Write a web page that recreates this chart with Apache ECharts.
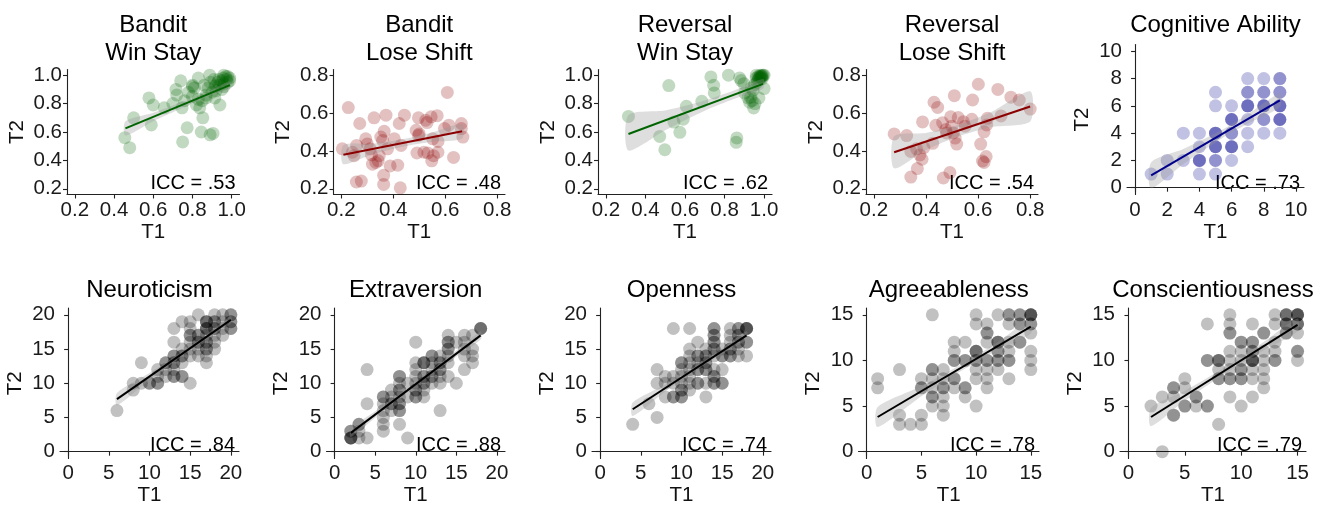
<!DOCTYPE html>
<html><head><meta charset="utf-8">
<script src="https://cdn.jsdelivr.net/npm/echarts@6/dist/echarts.min.js"></script>
<style>html,body{margin:0;padding:0;background:#fff}#c{width:1321px;height:505px}</style>
</head><body><div id="c"></div><script>
// ---------------- DATA ----------------
const panelTitles = ['Bandit\nWin Stay', 'Bandit\nLose Shift', 'Reversal\nWin Stay', 'Reversal\nLose Shift', 'Cognitive Ability',
  'Neuroticism', 'Extraversion', 'Openness', 'Agreeableness', 'Conscientiousness'];
const iccLabels = ['ICC = .53', 'ICC = .48', 'ICC = .62', 'ICC = .54', 'ICC = .73',
  'ICC = .84', 'ICC = .88', 'ICC = .74', 'ICC = .78', 'ICC = .79'];
const xName = 'T1';
const yName = 'T2';

// tick labels
const ticksWS = [0.2, 0.4, 0.6, 0.8, 1.0];
const ticksLS = [0.2, 0.4, 0.6, 0.8];
const ticksCog = [0, 2, 4, 6, 8, 10];
const ticks20 = [0, 5, 10, 15, 20];
const ticks15 = [0, 5, 10, 15];

// points [T1, T2]
const banditWinStay = [[0.455,0.56],[0.48,0.49],[0.50,0.70],[0.578,0.84],[0.60,0.79],[0.59,0.65],[0.656,0.77],[0.70,0.80],
  [0.716,0.90],[0.74,0.96],[0.747,0.77],[0.75,0.53],[0.773,0.63],[0.80,0.92],[0.80,0.93],[0.80,0.85],[0.82,0.79],[0.83,0.98],
  [0.837,0.77],[0.845,0.60],[0.853,0.70],[0.87,0.84],[0.888,1.0],[0.89,0.58],[0.905,0.59],[0.914,0.92],[0.914,0.84],[0.93,0.95],
  [0.94,0.79],[0.95,0.90],[0.957,0.98],[0.974,0.97],[0.98,0.99],[0.99,0.96],[0.935,0.97],[0.92,0.93],[0.90,0.88],[0.88,0.91],
  [0.87,0.86],[0.86,0.93],[0.78,0.88],[0.76,0.82],[0.81,0.91],[0.96,0.94],[0.97,0.99],[0.99,0.98],[0.95,0.96],[0.91,0.97],
  [0.94,0.93],[0.96,1.0],[0.98,0.95],[0.92,0.89],[0.85,0.82],[0.72,0.86],[0.83,0.83],[0.96,0.92],[0.89,0.95]];
const banditLoseShift = [[0.204,0.411],[0.227,0.629],[0.243,0.393],[0.249,0.375],[0.259,0.429],[0.271,0.545],[0.258,0.236],
  [0.277,0.241],[0.294,0.464],[0.30,0.437],[0.311,0.411],[0.316,0.379],[0.32,0.33],[0.326,0.575],[0.333,0.339],[0.342,0.348],
  [0.346,0.375],[0.352,0.473],[0.359,0.455],[0.365,0.504],[0.372,0.589],[0.363,0.271],[0.363,0.223],[0.378,0.411],[0.388,0.321],
  [0.404,0.464],[0.417,0.325],[0.423,0.545],[0.427,0.205],[0.43,0.429],[0.443,0.589],[0.488,0.509],[0.497,0.575],[0.491,0.389],
  [0.497,0.482],[0.50,0.49],[0.518,0.393],[0.525,0.562],[0.53,0.55],[0.533,0.389],[0.546,0.58],[0.548,0.348],[0.555,0.375],
  [0.552,0.464],[0.569,0.586],[0.572,0.45],[0.572,0.393],[0.597,0.518],[0.608,0.709],[0.614,0.536],[0.632,0.366],[0.662,0.545],
  [0.668,0.473],[0.662,0.518]];
const reversalWinStay = [[0.314,0.71],[0.472,0.569],[0.498,0.475],[0.518,0.927],[0.544,0.67],[0.574,0.598],[0.591,0.69],
  [0.607,0.781],[0.685,0.816],[0.731,0.988],[0.745,0.929],[0.748,0.875],[0.82,1.0],[0.859,0.527],[0.862,0.558],[0.876,0.981],
  [0.884,0.962],[0.898,0.94],[0.901,0.875],[0.918,0.84],[0.927,0.81],[0.932,0.845],[0.944,0.892],[0.947,0.769],[0.952,0.934],
  [0.961,1.0],[0.969,0.969],[0.974,0.84],[0.978,0.986],[0.986,0.993],[0.995,1.0],[0.991,0.976],[1.0,0.906],[0.935,0.91],
  [0.954,0.80],[0.97,0.99],[0.98,1.0],[0.99,0.99],[0.975,0.975],[0.96,0.98],[0.985,0.98],[0.965,0.95],[0.94,0.82],[0.99,1.0],
  [1.0,1.0],[0.98,0.99]];
const reversalLoseShift = [[0.278,0.49],[0.326,0.481],[0.342,0.262],[0.342,0.397],[0.364,0.411],[0.367,0.307],[0.377,0.379],
  [0.387,0.553],[0.385,0.356],[0.392,0.418],[0.426,0.44],[0.431,0.657],[0.438,0.535],[0.445,0.63],[0.464,0.549],[0.467,0.257],
  [0.476,0.513],[0.479,0.495],[0.492,0.286],[0.495,0.58],[0.499,0.531],[0.505,0.495],[0.509,0.692],[0.512,0.468],[0.518,0.436],
  [0.524,0.576],[0.544,0.554],[0.55,0.531],[0.579,0.669],[0.576,0.567],[0.601,0.752],[0.61,0.436],[0.617,0.347],[0.623,0.501],
  [0.623,0.339],[0.631,0.37],[0.636,0.572],[0.633,0.537],[0.676,0.725],[0.688,0.585],[0.726,0.684],[0.758,0.669],[0.8,0.621]];
// integer-valued scores: [T1, T2, number of overlapping participants]
const cognitiveAbility = [[7,8,1],[8,8,1],[9,8,2],[5,7,1],[7,7,2],[8,7,2],[9,7,2],[5,6,1],[6,6,1],[7,6,3],[8,6,3],[9,6,3],
  [6,5,3],[7,5,1],[8,5,2],[9,5,3],[3,4,1],[4,4,1],[5,4,3],[6,4,2],[7,4,1],[8,4,1],[9,4,1],[4,3,1],[5,3,3],[6,3,3],[7,3,1],
  [2,2,1],[3,2,1],[4,2,3],[5,2,2],[6,2,1],[1,1,1],[2,1,1],[4,1,1],[5,1,1]];
const neuroticism = [[6,6,1],[8,10,1],[8,9,1],[9,13,1],[9,10,1],[10,10,2],[11,10,2],[11,11,1],[11,12,1],[12,13,2],[12,12,1],
  [12,11,1],[13,11,2],[13,12,1],[13,13,2],[13,14,2],[13,16,1],[13,18,1],[14,11,2],[14,14,2],[14,15,1],[14,19,1],[14,13,1],
  [15,10,1],[15,14,1],[15,15,1],[15,17,2],[15,18,1],[15,19,1],[15,16,1],[16,16,2],[16,17,2],[16,14,1],[16,15,1],[16,20,1],
  [17,13,1],[17,14,1],[17,15,2],[17,16,2],[17,17,1],[17,18,3],[17,19,3],[18,16,1],[18,17,1],[18,18,2],[18,19,2],[18,20,1],
  [18,15,1],[19,17,1],[19,18,1],[19,19,1],[19,20,1],[20,18,2],[20,19,2],[20,20,2]];
const extraversion = [[2,2,4],[2,3,2],[3,2,1],[3,3,1],[3,4,2],[4,2,1],[4,7,1],[4,12,1],[6,3,1],[6,4,1],[6,5,1],[6,6,1],[6,7,1],
  [6,8,2],[7,6,1],[7,7,2],[7,8,1],[7,9,1],[8,4,1],[8,6,2],[8,7,2],[8,8,1],[8,9,2],[8,10,1],[8,11,2],[9,2,1],[9,8,1],[9,10,1],
  [10,8,2],[10,9,2],[10,10,1],[10,11,1],[10,12,1],[10,13,1],[10,16,1],[11,8,1],[11,9,1],[11,10,2],[11,11,2],[11,13,3],
  [12,10,1],[12,11,2],[12,12,1],[12,13,1],[12,14,2],[13,6,1],[13,10,1],[13,11,1],[13,12,2],[13,13,2],[13,14,1],[14,11,1],
  [14,13,1],[14,14,1],[14,15,2],[14,16,2],[14,17,1],[15,10,1],[15,16,1],[16,12,1],[16,14,1],[16,15,1],[16,16,1],[16,17,1],
  [17,13,1],[17,14,1],[17,15,1],[17,17,1],[18,18,3]];
const openness = [[4,4,1],[6,7,1],[7,5,1],[7,10,1],[7,12,1],[8,8,1],[8,10,1],[8,11,1],[9,8,2],[9,10,1],[9,11,1],[9,18,1],
  [10,8,2],[10,9,2],[10,10,1],[10,11,1],[10,12,1],[10,13,2],[11,9,1],[11,10,1],[11,11,1],[11,12,1],[11,13,1],[11,14,1],
  [11,15,1],[11,18,1],[12,10,2],[12,12,2],[12,13,1],[12,14,2],[12,16,1],[13,8,1],[13,10,1],[13,12,2],[13,13,2],[13,14,2],
  [13,15,1],[14,10,2],[14,11,2],[14,12,1],[14,14,1],[14,15,2],[14,16,2],[14,17,2],[14,18,2],[15,10,2],[15,12,1],[15,14,2],
  [15,15,1],[16,14,2],[16,15,2],[16,16,1],[16,17,1],[16,18,1],[17,14,1],[17,15,1],[17,16,2],[17,17,2],[17,18,2],[18,14,1],
  [18,16,2],[18,18,4]];
const agreeableness = [[1,7,1],[1,8,1],[3,3,1],[3,4,1],[3,9,1],[4,3,1],[5,3,1],[5,4,1],[5,7,2],[5,8,1],[6,5,1],[6,6,2],
  [6,7,1],[6,8,1],[6,9,2],[6,15,1],[7,4,1],[7,5,1],[7,6,1],[7,7,2],[7,8,1],[7,9,1],[8,7,1],[8,8,2],[8,10,2],[8,11,1],[8,12,1],
  [9,6,1],[9,7,2],[9,10,2],[9,12,1],[10,5,1],[10,8,1],[10,9,1],[10,10,2],[10,11,3],[10,14,1],[10,15,1],[11,7,1],[11,8,1],
  [11,9,1],[11,10,2],[11,12,1],[11,13,2],[11,14,1],[12,9,1],[12,10,2],[12,11,2],[12,12,3],[12,15,1],[13,8,1],[13,10,2],
  [13,11,1],[13,12,1],[13,14,1],[13,15,2],[14,12,2],[14,14,2],[14,15,2],[15,9,1],[15,10,1],[15,11,1],[15,13,1],[15,14,2],
  [15,15,4]];
const conscientiousness = [[2,5,1],[3,0,1],[3,6,1],[4,4,2],[4,6,1],[4,7,2],[5,5,2],[5,7,1],[5,8,1],[6,5,1],[6,6,2],[7,5,2],
  [7,10,2],[7,14,1],[8,3,1],[8,8,2],[8,9,1],[8,10,3],[9,6,1],[9,8,2],[9,9,1],[9,10,1],[9,11,1],[9,13,2],[9,14,1],[9,15,1],
  [10,5,1],[10,8,2],[10,9,2],[10,10,1],[10,11,1],[10,12,2],[11,6,1],[11,8,1],[11,9,1],[11,10,4],[11,11,2],[11,12,2],[11,14,1],
  [12,7,1],[12,8,1],[12,9,1],[12,10,1],[12,11,1],[12,13,2],[13,10,2],[13,11,1],[13,12,1],[13,14,1],[13,15,1],[14,13,2],
  [14,14,3],[14,15,3],[15,10,1],[15,11,2],[15,13,1],[15,14,3],[15,15,4]];

// fitted lines: x ends and y ends
const fitX = [[0.458,0.991],[0.208,0.665],[0.314,0.995],[0.278,0.8],[1,9],[6,20],[2,18],[4,18],[1,15],[2,15]];
const fitY = [[0.625,0.93],[0.38,0.504],[0.586,0.939],[0.393,0.635],[0.9,6.41],[7.68,19.27],[2.75,17.0],[6.2,17.0],[3.8,13.7],[3.8,13.9]];
// confidence bands (read at 5 positions)
const bandX = [[0.458,0.6,0.8,0.9,0.991],[0.208,0.32,0.44,0.55,0.665],[0.314,0.5,0.7,0.85,0.995],[0.278,0.4,0.52,0.65,0.8],
  [1,3,5.5,7,9],[6,10,14,17,20],[2,6,10,14,18],[4,8,12,15,18],[1,5,9,12,15],[2,5,9,12,15]];
const bandLo = [[0.575,0.676,0.803,0.86,0.903],[0.33,0.382,0.423,0.448,0.466],[0.47,0.612,0.75,0.834,0.904],
  [0.308,0.405,0.475,0.525,0.555],[-0.05,1.73,3.7,4.68,5.91],[6.78,10.49,14.0,16.44,18.72],[2.15,5.96,9.63,13.09,16.4],
  [5.2,8.79,12.07,14.29,16.4],[2.7,6.08,9.11,11.13,12.95],[2.8,5.58,8.89,11.12,13.2]];
const bandHi = [[0.675,0.736,0.837,0.896,0.957],[0.43,0.438,0.463,0.498,0.542],[0.72,0.752,0.822,0.894,0.974],
  [0.478,0.495,0.535,0.605,0.715],[1.85,2.83,4.3,5.38,6.91],[8.58,11.49,14.6,17.14,19.82],[3.35,6.66,10.13,13.79,17.6],
  [7.2,9.79,12.67,15.09,17.6],[4.9,7.18,9.81,12.03,14.45],[4.8,6.68,9.59,12.02,14.6]];

// ---------------- STYLE / LAYOUT ----------------
const GREEN = '#006400', RED = '#8B0000', BLUE = '#00008B', BLACK = '#000000';
const expand = arr => { const out = []; arr.forEach(([x, y, n]) => { for (let k = 0; k < n; k++) out.push([x, y]); }); return out; };
const panels = [
  { pts: banditWinStay, col: GREEN, xt: ticksWS, yt: ticksWS, dec: true },
  { pts: banditLoseShift, col: RED, xt: ticksLS, yt: ticksLS, dec: true },
  { pts: reversalWinStay, col: GREEN, xt: ticksWS, yt: ticksWS, dec: true },
  { pts: reversalLoseShift, col: RED, xt: ticksLS, yt: ticksLS, dec: true },
  { pts: expand(cognitiveAbility), col: BLUE, xt: ticksCog, yt: ticksCog, dec: false },
  { pts: expand(neuroticism), col: BLACK, xt: ticks20, yt: ticks20, dec: false },
  { pts: expand(extraversion), col: BLACK, xt: ticks20, yt: ticks20, dec: false },
  { pts: expand(openness), col: BLACK, xt: ticks20, yt: ticks20, dec: false },
  { pts: expand(agreeableness), col: BLACK, xt: ticks15, yt: ticks15, dec: false },
  { pts: expand(conscientiousness), col: BLACK, xt: ticks15, yt: ticks15, dec: false }
];
// plot-area rectangles (left, top, right, bottom) in px
const layout = [
  [67, 69.5, 239.5, 194.5], [333.5, 69.5, 505, 194.5], [598, 69.5, 772, 194.5], [866, 69.5, 1038, 194.5], [1127, 44.5, 1304, 194.5],
  [60, 308, 239, 458.5], [326.5, 308, 505, 458.5], [592, 308, 771, 458.5], [858.5, 308, 1039, 458.5], [1120, 308, 1306, 458.5]
];
const FONT = 'Liberation Sans, Arial, Helvetica, sans-serif';
const hexA = (hex, a) => { const n = parseInt(hex.slice(1), 16); return `rgba(${(n >> 16) & 255},${(n >> 8) & 255},${n & 255},${a})`; };

const grid = [], xAxis = [], yAxis = [], series = [], graphic = [];
panels.forEach((p, i) => {
  const [l, t, r, b] = layout[i];
  const row1 = i < 5;
  grid.push({ left: l, top: t, width: r - l, height: b - t, containLabel: false, outerBoundsMode: 'none' });
  const lim = tk => { const lo = tk[0], hi = tk[tk.length - 1], e = (hi - lo) * 0.05; return [lo - e, hi + e]; };
  const [xmin, xmax] = lim(p.xt), [ymin, ymax] = lim(p.yt);
  const fmt = v => p.dec ? Number(v).toFixed(1) : String(Math.round(v));
  const axLine = { show: true, lineStyle: { color: '#222', width: 1.1 } };
  xAxis.push({
    gridIndex: i, type: 'value', min: xmin, max: xmax,
    name: xName, nameLocation: 'middle', nameGap: row1 ? 25 : 20,
    nameTextStyle: { fontFamily: FONT, fontSize: 20.5, color: '#111' },
    axisLine: axLine, splitLine: { show: false },
    axisTick: { show: true, length: 4, customValues: p.xt, lineStyle: { color: '#222', width: 1.1 } },
    axisLabel: { customValues: p.xt, formatter: fmt, fontFamily: FONT, fontSize: 20.5, color: '#1a1a1a', margin: row1 ? 5 : 4 }
  });
  yAxis.push({
    gridIndex: i, type: 'value', min: ymin, max: ymax,
    name: yName, nameLocation: 'middle', nameGap: p.dec ? 39.5 : 34.5,
    nameTextStyle: { fontFamily: FONT, fontSize: 20.5, color: '#111' },
    axisLine: axLine, splitLine: { show: false },
    axisTick: { show: true, length: 4, customValues: p.yt, lineStyle: { color: '#222', width: 1.1 } },
    axisLabel: { customValues: p.yt, formatter: fmt, fontFamily: FONT, fontSize: 20.5, color: '#1a1a1a', margin: 5 }
  });
  series.push({
    type: 'scatter', xAxisIndex: i, yAxisIndex: i, data: p.pts, symbolSize: 13, z: 2,
    itemStyle: { color: hexA(p.col, 0.3) }, emphasis: { disabled: true }, silent: true
  });
  const bx = bandX[i], blo = bandLo[i], bhi = bandHi[i];
  series.push({
    type: 'custom', xAxisIndex: i, yAxisIndex: i, z: 3, silent: true,
    data: bx.map((x, k) => [x, blo[k], bhi[k]]),
    encode: { x: 0, y: [1, 2] },
    renderItem: (params, api) => {
      if (params.dataIndex !== 0) return null;
      const pts = [];
      for (let k = 0; k < bx.length; k++) pts.push(api.coord([bx[k], bhi[k]]));
      for (let k = bx.length - 1; k >= 0; k--) pts.push(api.coord([bx[k], blo[k]]));
      return { type: 'polygon', shape: { points: pts, smooth: 0.25 }, style: { fill: 'rgba(153,153,153,0.32)' } };
    }
  });
  series.push({
    type: 'line', xAxisIndex: i, yAxisIndex: i, z: 4, silent: true, showSymbol: false, symbol: 'none',
    data: fitX[i].map((x, k) => [x, fitY[i][k]]),
    lineStyle: { color: p.col, width: 2 }
  });
  // title
  const cx = (l + r) / 2;
  const twoLine = panelTitles[i].indexOf('\n') >= 0;
  graphic.push({
    type: 'text', x: cx, y: row1 ? (twoLine ? 39.5 : 25) : 290,
    style: { text: panelTitles[i], fontFamily: FONT, fontSize: 24, lineHeight: 28.5, fill: '#000', align: 'center', verticalAlign: 'middle' }
  });
  // ICC annotation
  graphic.push({
    type: 'text', x: r - 4, y: b - (row1 ? 11 : 13),
    style: { text: iccLabels[i], fontFamily: FONT, fontSize: 20, fill: '#000', align: 'right', verticalAlign: 'middle' }
  });
});

const chart = echarts.init(document.getElementById('c'), null, { renderer: 'canvas' });
chart.setOption({ backgroundColor: '#ffffff', animation: false, grid, xAxis, yAxis, series, graphic });
</script></body></html>
